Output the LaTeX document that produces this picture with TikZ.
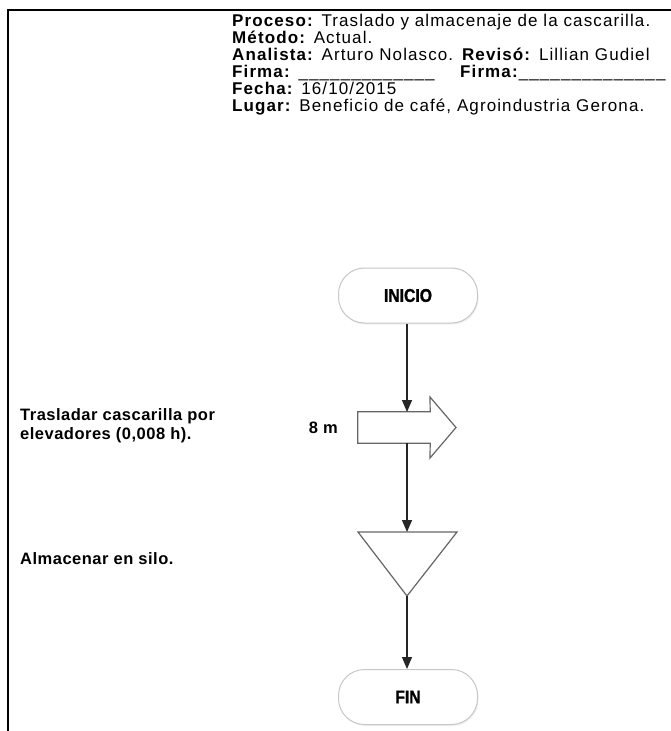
\documentclass[tikz,border=0pt]{standalone}
\usepackage{fontspec}
\setmainfont{Liberation Sans}
\newfontfamily\hdrfont[LetterSpace=6.5]{Liberation Sans}
\newfontfamily\lblfont[LetterSpace=3]{Liberation Sans}
\newfontfamily\termfont[FakeStretch=0.85,FakeBold=1.2]{Liberation Sans}
\usetikzlibrary{arrows.meta,shadows}
\newcommand{\blank}[1]{\foreach \i in {1,...,#1}{\_}}
\begin{document}
\begin{tikzpicture}[x=1pt,y=-1pt,
  hdr/.style={anchor=base west, inner sep=0pt, font=\hdrfont\fontsize{17}{17}\selectfont},
  lbl/.style={anchor=base west, inner sep=0pt, font=\lblfont\bfseries\fontsize{16.5}{20}\selectfont},
  term/.style={draw=black!22, fill=white, rounded corners=26pt,
    minimum width=139pt, minimum height=55pt, line width=1pt,
    drop shadow={opacity=0.12, shadow xshift=1pt, shadow yshift=-1.5pt},
    font=\termfont\bfseries\fontsize{18.5}{20}\selectfont},
  shp/.style={draw=black!60, line width=1.2pt, fill=white},
  flow/.style={draw=black!85, line width=1.3pt, -{Triangle[length=12pt,width=10pt]}}]
\useasboundingbox (0,0) rectangle (671,731);
\fill[white] (0,0) rectangle (671,731);

% page frame
\draw[line width=2pt] (671,10) -- (8,10) -- (8,731);

% header data
\node[hdr] (h1) at (232,26) {\textbf{Proceso:} Traslado y almacenaje de la cascarilla.};
\node[hdr] (h2) at (232,43) {\textbf{Método:} Actual.};
\node[hdr] (h3) at (232,60) {\textbf{Analista:} Arturo Nolasco. \textbf{Revisó:} Lillian Gudiel};
\node[hdr] (h4) at (232,77) {\textbf{Firma:} \blank{13}};
\node[hdr] (h4b) at (460,77) {\textbf{Firma:}\blank{14}};
\node[hdr] (h5) at (232,94) {\textbf{Fecha:} 16/10/2015};
\node[hdr] (h6) at (232,111) {\textbf{Lugar:} Beneficio de café, Agroindustria Gerona.};

% flow symbols
\node[term] (inicio) at (408,295.5) {INICIO};
\node[term] (fin) at (408,697) {FIN};

% transport: block arrow
\node[inner sep=0pt, minimum width=72pt, minimum height=31pt] (mov) at (394,427.5) {};
\draw[shp] (mov.north west) -- (mov.north east) -- (430,397) -- (456,427.5)
  -- (430,458) -- (mov.south east) -- (mov.south west) -- cycle;
\coordinate (movin) at (407,412);
\coordinate (movout) at (407,443);

% storage: inverted triangle
\coordinate (silo) at (407,532);
\coordinate (siloapex) at (407,596);
\draw[shp] (358,532) -- (457,532) -- (siloapex) -- cycle;

% connectors
\draw[flow] (inicio.south -| movin) -- (movin);
\draw[flow] (movout) -- (silo);
\draw[flow] (siloapex) -- (fin.north -| siloapex);

% labels
\node[lbl] (t1) at (20,420) {Trasladar cascarilla por};
\node[lbl] (t2) at (20,439) {elevadores (0,008 h).};
\node[lbl, anchor=base east] (dist) at (338,433) {8 m};
\node[lbl] (t3) at (20,564) {Almacenar en silo.};
\end{tikzpicture}
\end{document}
